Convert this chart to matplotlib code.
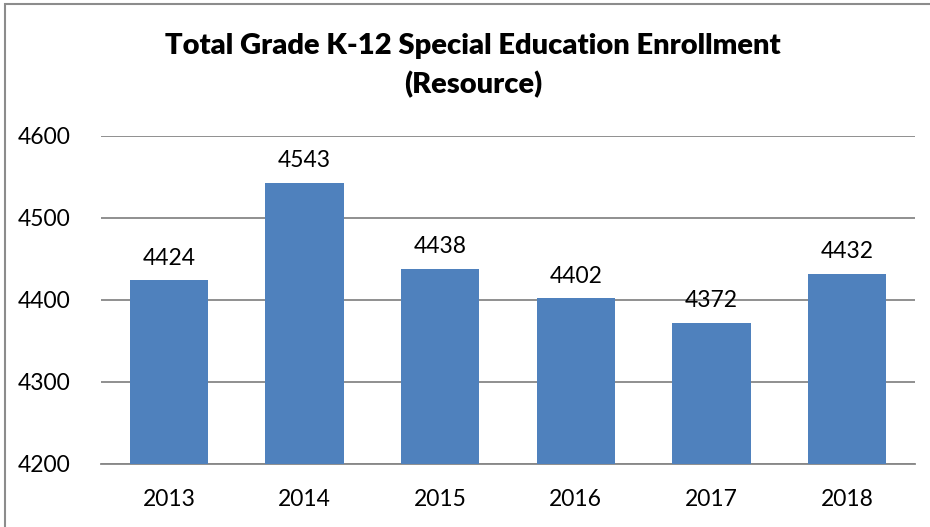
import matplotlib
matplotlib.use("Agg")
import matplotlib.pyplot as plt
from matplotlib.patches import Rectangle

years = ["2013", "2014", "2015", "2016", "2017", "2018"]
enrollment = [4424, 4543, 4438, 4402, 4372, 4432]
yticks = [4200, 4300, 4400, 4500, 4600]

plt.rcParams['font.family'] = ['Lato', 'DejaVu Sans']

W, H = 930, 527
fig = plt.figure(figsize=(W/100, H/100), dpi=100)
fig.patches.append(Rectangle((5/W, -0.2), 1.2, 1.2 - 4/H, transform=fig.transFigure,
                             fill=False, edgecolor='#8c8c8c', linewidth=1.5))

ax = fig.add_axes([101/W, (H-464)/H, (915-101)/W, (464-136)/H])
x = range(len(years))
ax.bar(x, enrollment, width=0.575, color='#4F81BD', zorder=3)
ax.set_ylim(4200, 4600)
ax.set_xlim(-0.5, len(years) - 0.5)
ax.set_yticks(yticks)
ax.set_xticks(list(x))
ax.set_xticklabels(years)
ax.yaxis.grid(True, color='#878787', linewidth=1.3, zorder=0)
ax.tick_params(axis='both', length=0, labelsize=16.5, colors='black')
ax.tick_params(axis='x', pad=18)
ax.tick_params(axis='y', pad=22)
for s in ['top', 'right', 'left']:
    ax.spines[s].set_visible(False)
ax.spines['bottom'].set_color('#878787')
ax.spines['bottom'].set_linewidth(1.3)

for xi, v in zip(x, enrollment):
    ax.annotate(str(v), (xi, v), xytext=(0, 16), textcoords='offset points',
                ha='center', va='center', fontsize=16.5)

fig.text(473/W, 1 - 46/H, "Total Grade K-12 Special Education Enrollment",
         ha='center', va='center', fontsize=21, fontweight='heavy')
fig.text(473/W, 1 - 85/H, "(Resource)",
         ha='center', va='center', fontsize=21, fontweight='heavy')

fig.savefig("out.png", dpi=100)
